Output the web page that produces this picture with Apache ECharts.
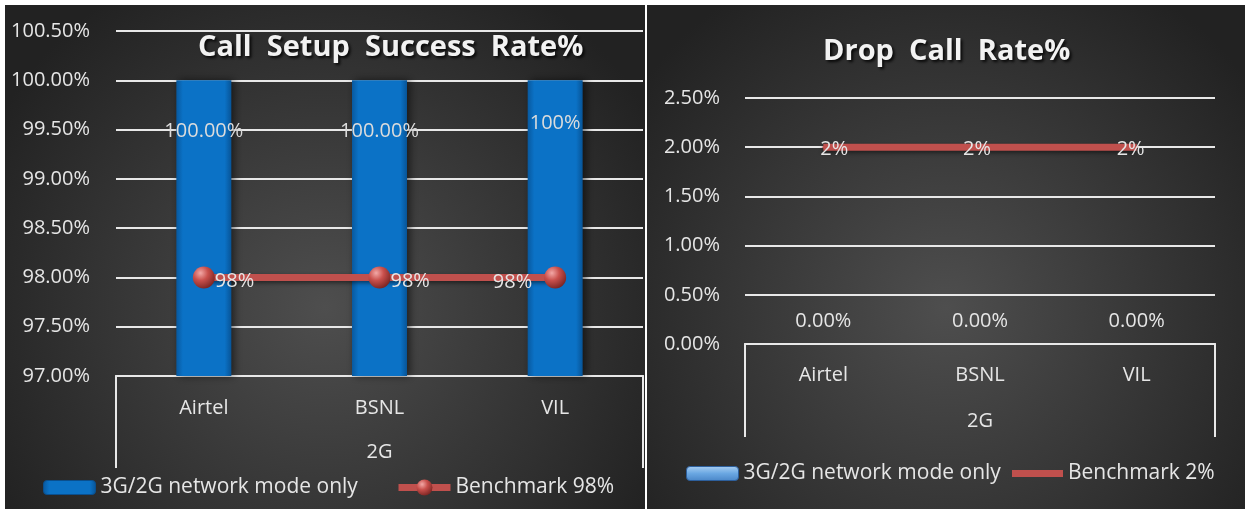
<!DOCTYPE html>
<html>
<head>
<meta charset="utf-8">
<script src="https://cdn.jsdelivr.net/npm/echarts@6/dist/echarts.min.js"></script>
<style>
  html, body { margin: 0; padding: 0; background: #ffffff; }
  #chart { width: 1250px; height: 509px; }
</style>
</head>
<body>
<div id="chart"></div>
<script>
// data
const categories = ["Airtel", "BSNL", "VIL"];
const groupLabels = ["2G"];
const cssrValues = [100, 100, 100];
const cssrLabels = ["100.00%", "100.00%", "100%"];
const cssrBenchmark = [98, 98, 98];
const dcrValues = [0, 0, 0];
const dcrLabels = ["0.00%", "0.00%", "0.00%"];
const dcrBenchmark = [2, 2, 2];
const cssrAxis = [97, 100.5, 0.5];
const dcrAxis = [0, 2.5, 0.5];

const FONT = "Open Sans";
const FS = 20;
const TXT = "#e6e6e6";
const RED = "#c0504d";

const chart = echarts.init(document.getElementById("chart"));

const panelBg = () =>
  new echarts.graphic.RadialGradient(0.5, 0.6, 0.75, [
    { offset: 0, color: "#4e4e4e" },
    { offset: 1, color: "#222222" },
  ]);

const barFill = new echarts.graphic.LinearGradient(0, 0, 1, 0, [
  { offset: 0, color: "#08599f" },
  { offset: 0.12, color: "#0b72c6" },
  { offset: 0.88, color: "#0b72c6" },
  { offset: 1, color: "#075497" },
]);

const sphere = new echarts.graphic.RadialGradient(0.35, 0.3, 0.75, [
  { offset: 0, color: "#f2a8a6" },
  { offset: 0.45, color: "#c9504c" },
  { offset: 1, color: "#7a2422" },
]);

const titleStyle = {
  color: "#f2f2f2",
  fontFamily: FONT,
  fontWeight: "bold",
  fontSize: 29,
  textShadowColor: "rgba(0,0,0,0.85)",
  textShadowBlur: 3,
  textShadowOffsetX: 2,
  textShadowOffsetY: 2,
};
const legendText = { color: TXT, fontFamily: FONT, fontSize: 21 };

// label offsets for the benchmark lines (placement only)
const cssrLinePos = [
  { position: "right", distance: 0, offset: [0, 4] },
  { position: "right", distance: 0, offset: [0, 4] },
  { position: "left", distance: 12, offset: [0, 5] },
];
const dcrLinePos = [
  { position: "right", distance: -4, offset: [0, 2] },
  { position: "inside", offset: [-3, 2] },
  { position: "inside", offset: [-6, 2] },
];

const valueAxis = (gridIndex, lim, margin) => ({
  type: "value",
  gridIndex: gridIndex,
  min: lim[0],
  max: lim[1],
  interval: lim[2],
  axisLine: { show: false },
  axisTick: { show: false },
  axisLabel: {
    margin: margin,
    color: TXT,
    fontFamily: FONT,
    fontSize: FS,
    formatter: (v) => v.toFixed(2) + "%",
  },
  splitLine: { lineStyle: { color: "#e8e8e8", width: 2 } },
});

const catAxis = (gridIndex, margin) => ({
  type: "category",
  gridIndex: gridIndex,
  data: categories,
  axisLine: { lineStyle: { color: "#e8e8e8", width: 2 } },
  axisTick: { show: false },
  axisLabel: { margin: margin, color: TXT, fontFamily: FONT, fontSize: FS },
});

const groupAxis = (gridIndex, margin, tickLen) => ({
  type: "category",
  gridIndex: gridIndex,
  position: "bottom",
  data: groupLabels,
  axisLine: { lineStyle: { color: "#e8e8e8", width: 2 } },
  axisTick: { show: true, length: tickLen, lineStyle: { color: "#e8e8e8", width: 2 } },
  axisLabel: { margin: margin, color: TXT, fontFamily: FONT, fontSize: FS },
});

chart.setOption({
  animation: false,
  graphic: [
    { type: "rect", z: -10, shape: { x: 5, y: 5, width: 640, height: 504 }, style: { fill: panelBg() } },
    { type: "rect", z: -10, shape: { x: 647, y: 5, width: 598, height: 504 }, style: { fill: panelBg() } },
  ],
  title: [
    { text: "Call  Setup  Success  Rate%", left: 193, top: 28, textStyle: titleStyle },
    { text: "Drop  Call  Rate%", left: 818, top: 32, textStyle: titleStyle },
  ],
  legend: [
    {
      left: 43,
      top: 477,
      padding: 0,
      itemWidth: 52,
      itemHeight: 14,
      textStyle: legendText,
      data: [{ name: "3G/2G network mode only", itemStyle: { color: barFill, borderColor: "#0a4f8e", borderWidth: 1 } }],
    },
    {
      left: 395,
      top: 477,
      padding: 0,
      itemWidth: 52,
      itemHeight: 20,
      textStyle: legendText,
      data: [{ name: "Benchmark 98%", lineStyle: { width: 7, color: RED } }],
    },
    {
      left: 686,
      top: 463,
      padding: 0,
      itemWidth: 52,
      itemHeight: 14,
      textStyle: legendText,
      data: [
        {
          name: "3G/2G network mode only",
          itemStyle: {
            color: new echarts.graphic.LinearGradient(0, 0, 0, 1, [
              { offset: 0, color: "#a9cff3" },
              { offset: 0.5, color: "#6aa7e2" },
              { offset: 1, color: "#4a86c8" },
            ]),
            borderColor: "#2d5f9c",
            borderWidth: 1,
          },
        },
      ],
    },
    {
      left: 1012,
      top: 463,
      padding: 0,
      itemWidth: 51,
      itemHeight: 7,
      textStyle: legendText,
      data: [{ name: "Benchmark 2%", icon: "rect", itemStyle: { color: RED, borderWidth: 0 } }],
    },
  ],
  grid: [
    { left: 116, right: 607, top: 31, bottom: 133 },
    { left: 745, right: 35, top: 98, bottom: 165 },
  ],
  xAxis: [catAxis(0, 22), groupAxis(0, 66, 92), catAxis(1, 21), groupAxis(1, 67, 93)],
  yAxis: [valueAxis(0, cssrAxis, 26), valueAxis(1, dcrAxis, 25)],
  series: [
    {
      name: "3G/2G network mode only",
      type: "bar",
      xAxisIndex: 0,
      yAxisIndex: 0,
      barWidth: 55,
      itemStyle: {
        color: barFill,
        shadowColor: "rgba(0,0,0,0.55)",
        shadowBlur: 8,
        shadowOffsetX: 3,
      },
      label: {
        show: true,
        position: "insideTop",
        color: "#dcdcdc",
        fontFamily: FONT,
        fontSize: FS,
      },
      data: cssrValues.map((v, i) => ({
        value: v,
        label: { formatter: cssrLabels[i], distance: i === 2 ? 33 : 41 },
      })),
    },
    {
      name: "Benchmark 98%",
      type: "line",
      xAxisIndex: 0,
      yAxisIndex: 0,
      symbol: "circle",
      symbolSize: 22,
      itemStyle: { color: sphere },
      lineStyle: { color: RED, width: 7, shadowColor: "rgba(0,0,0,0.5)", shadowBlur: 4, shadowOffsetY: 2 },
      label: { show: true, color: TXT, fontFamily: FONT, fontSize: FS, formatter: (p) => p.value + "%" },
      data: cssrBenchmark.map((v, i) => ({ value: v, label: cssrLinePos[i] })),
      z: 3,
    },
    {
      name: "3G/2G network mode only",
      type: "bar",
      xAxisIndex: 2,
      yAxisIndex: 1,
      barWidth: 55,
      itemStyle: { color: "#6aa7e2" },
      label: {
        show: true,
        position: "top",
        distance: 13,
        color: TXT,
        fontFamily: FONT,
        fontSize: FS,
      },
      data: dcrValues.map((v, i) => ({ value: v, label: { formatter: dcrLabels[i] } })),
    },
    {
      name: "Benchmark 2%",
      type: "line",
      xAxisIndex: 2,
      yAxisIndex: 1,
      symbol: "circle",
      symbolSize: 2,
      itemStyle: { color: RED },
      lineStyle: { color: RED, width: 7, shadowColor: "rgba(0,0,0,0.5)", shadowBlur: 4, shadowOffsetY: 2 },
      label: { show: true, color: TXT, fontFamily: FONT, fontSize: FS, formatter: (p) => p.value + "%" },
      data: dcrBenchmark.map((v, i) => ({ value: v, label: dcrLinePos[i] })),
      z: 3,
    },
  ],
});
</script>
</body>
</html>
